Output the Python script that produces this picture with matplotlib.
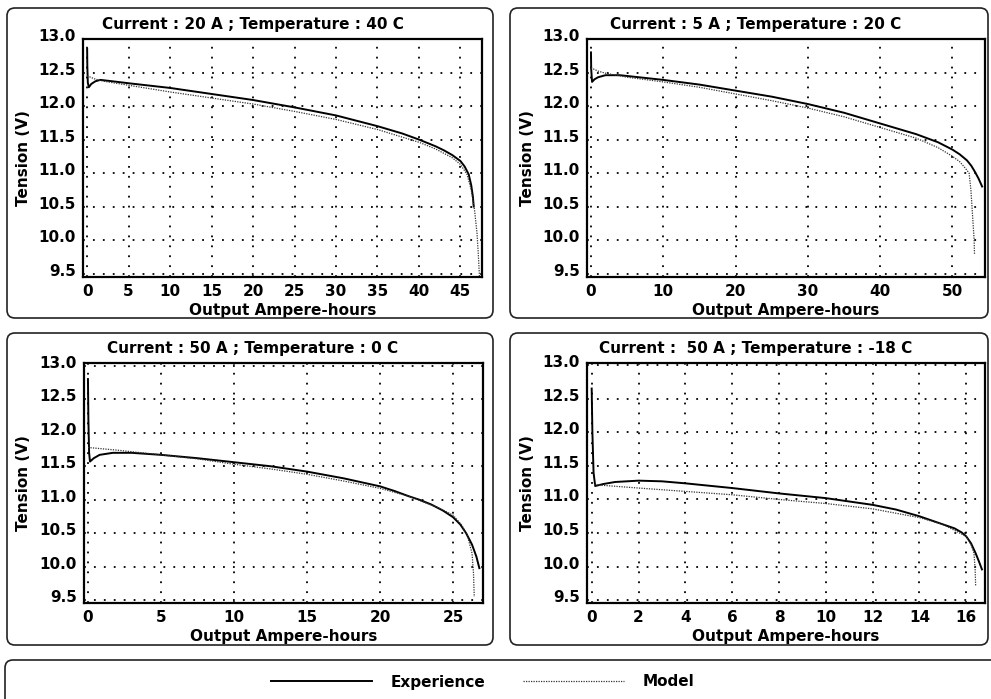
import matplotlib
matplotlib.use('Agg')
import matplotlib.pyplot as plt
from matplotlib.patches import FancyBboxPatch
from matplotlib.lines import Line2D
from matplotlib.transforms import ScaledTranslation

# ---------------- data ----------------
titles = ["Current : 20 A ; Temperature : 40 C",
          "Current : 5 A ; Temperature : 20 C",
          "Current : 50 A ; Temperature : 0 C",
          "Current :  50 A ; Temperature : -18 C"]

x_ticks_1 = [0, 5, 10, 15, 20, 25, 30, 35, 40, 45]
x_ticks_2 = [0, 10, 20, 30, 40, 50]
x_ticks_3 = [0, 5, 10, 15, 20, 25]
x_ticks_4 = [0, 2, 4, 6, 8, 10, 12, 14, 16]
y_ticks = [9.5, 10.0, 10.5, 11.0, 11.5, 12.0, 12.5, 13.0]

exp_x_1 = [0, 0.02, 0.08, 0.2, 0.5, 1.0, 1.6, 3, 5, 10, 15, 20, 25, 30, 35, 38, 40, 42, 43, 44, 45, 45.5, 46.0, 46.3, 46.5, 46.6]
exp_y_1 = [12.85, 12.60, 12.35, 12.28, 12.33, 12.37, 12.39, 12.37, 12.34, 12.27, 12.18, 12.09, 11.98, 11.86, 11.70, 11.59, 11.50, 11.40, 11.34, 11.27, 11.18, 11.10, 10.98, 10.82, 10.65, 10.50]
mod_x_1 = [0, 1, 2, 5, 10, 15, 20, 25, 30, 35, 40, 42, 44, 45, 45.8, 46.3, 46.7, 47.0, 47.15, 47.3]
mod_y_1 = [12.45, 12.40, 12.37, 12.31, 12.21, 12.12, 12.03, 11.92, 11.80, 11.65, 11.46, 11.36, 11.23, 11.13, 10.98, 10.75, 10.45, 10.10, 9.80, 9.45]

exp_x_2 = [0, 0.03, 0.15, 0.5, 1.0, 2, 4, 10, 15, 20, 25, 30, 35, 40, 45, 48, 50, 51, 52, 52.6, 53.1, 53.6, 54.1]
exp_y_2 = [12.80, 12.55, 12.36, 12.40, 12.43, 12.46, 12.46, 12.39, 12.32, 12.23, 12.14, 12.03, 11.90, 11.74, 11.58, 11.46, 11.35, 11.28, 11.19, 11.11, 11.02, 10.92, 10.80]
mod_x_2 = [0, 1, 2, 3, 5, 10, 15, 20, 25, 30, 35, 40, 45, 48, 50, 51, 51.8, 52.3, 52.55, 52.7, 52.85, 53.0, 53.05]
mod_y_2 = [12.57, 12.52, 12.49, 12.47, 12.43, 12.36, 12.28, 12.18, 12.08, 11.97, 11.84, 11.68, 11.52, 11.38, 11.25, 11.17, 11.07, 11.00, 10.75, 10.50, 10.25, 10.00, 9.78]

exp_x_3 = [0, 0.03, 0.08, 0.14, 0.4, 0.8, 1.7, 3, 5, 7.5, 10, 12.5, 15, 17.5, 20, 21, 22, 22.7, 23.5, 24.3, 25, 25.5, 25.9, 26.3, 26.6, 26.8]
exp_y_3 = [12.80, 12.20, 11.70, 11.57, 11.62, 11.67, 11.70, 11.70, 11.67, 11.62, 11.56, 11.50, 11.42, 11.32, 11.20, 11.13, 11.05, 11.00, 10.93, 10.84, 10.74, 10.63, 10.50, 10.33, 10.15, 9.98]
mod_x_3 = [0, 2, 5, 7.5, 10, 12.5, 15, 17.5, 20, 22, 24, 25, 25.6, 26.0, 26.3, 26.4, 26.45]
mod_y_3 = [11.78, 11.74, 11.67, 11.61, 11.53, 11.46, 11.38, 11.28, 11.17, 11.05, 10.88, 10.77, 10.62, 10.45, 10.20, 9.90, 9.55]

exp_x_4 = [0, 0.03, 0.08, 0.15, 0.5, 1.0, 2.0, 3.0, 4, 6, 8, 10, 12, 13, 14, 15, 15.5, 15.8, 16.0, 16.2, 16.4, 16.55, 16.67]
exp_y_4 = [12.65, 12.00, 11.40, 11.20, 11.23, 11.26, 11.28, 11.27, 11.24, 11.17, 11.09, 11.02, 10.92, 10.85, 10.75, 10.63, 10.57, 10.51, 10.45, 10.35, 10.20, 10.07, 9.96]
mod_x_4 = [0.1, 2, 4, 6, 8, 10, 12, 14, 15, 16.0, 16.2, 16.33, 16.38, 16.4]
mod_y_4 = [11.22, 11.17, 11.12, 11.07, 11.00, 10.94, 10.86, 10.73, 10.63, 10.45, 10.33, 10.20, 9.95, 9.72]

xlims = [(-0.5, 47.6), (-0.55, 54.5), (-0.27, 27.05), (-0.2, 16.8)]
ylims = [(9.45, 13.0), (9.45, 13.0), (9.46, 13.04), (9.46, 13.03)]

# ---------------- figure ----------------
W, H = 991, 699
plt.rcParams['font.family'] = ['DejaVu Sans']
plt.rcParams['font.weight'] = 'bold'
plt.rcParams['font.size'] = 11
fig = plt.figure(figsize=(W / 100, H / 100), dpi=100)
fig.patch.set_facecolor('white')


def fig_rect(l, t, r, b):
    return [l / W, 1 - b / H, (r - l) / W, (b - t) / H]


# panel boxes
boxes = [(7, 8, 493, 318), (510, 8, 988, 318), (7, 333, 493, 645), (510, 333, 988, 645), (5, 660, 1000, 710)]
for (l, t, r, b) in boxes:
    p = FancyBboxPatch((l / W, 1 - b / H), (r - l) / W, (b - t) / H,
                       boxstyle='round,pad=0,rounding_size=0.008',
                       mutation_aspect=W / H,
                       transform=fig.transFigure, fill=False,
                       lw=1.2, ec='#222222')
    fig.add_artist(p)

axes_rects = [(83, 39, 482, 277), (587, 39, 985, 277), (84, 363, 483, 603), (587, 363, 985, 603)]
xticks_all = [x_ticks_1, x_ticks_2, x_ticks_3, x_ticks_4]
exp_all = [(exp_x_1, exp_y_1), (exp_x_2, exp_y_2), (exp_x_3, exp_y_3), (exp_x_4, exp_y_4)]
mod_all = [(mod_x_1, mod_y_1), (mod_x_2, mod_y_2), (mod_x_3, mod_y_3), (mod_x_4, mod_y_4)]
title_cx = [253, 756, 253, 756]
ylabel_right = [31, 535, 31, 535]

for i in range(4):
    l, t, r, b = axes_rects[i]
    ax = fig.add_axes(fig_rect(l, t, r, b))
    ax.plot(exp_all[i][0], exp_all[i][1], color='black', lw=1.4, solid_joinstyle='round')
    ax.plot(mod_all[i][0], mod_all[i][1], color='#333333', lw=0.9, linestyle=(0, (1, 1)))
    ax.set_xlim(*xlims[i])
    ax.set_ylim(*ylims[i])
    ax.set_xticks(xticks_all[i])
    ax.set_xticklabels([str(v) for v in xticks_all[i]])
    ax.set_yticks(y_ticks)
    ax.set_yticklabels(['%.1f' % v for v in y_ticks])
    ax.grid(True, color='black', lw=1.3, linestyle=(0, (1, 4.5)))
    ax.tick_params(length=0, labelsize=11, pad=5)
    for sp in ax.spines.values():
        sp.set_linewidth(1.6)
    for lab in ax.get_yticklabels():
        lab.set_fontweight('bold')
        lab.set_transform(lab.get_transform() + ScaledTranslation(0, 4 / 100, fig.dpi_scale_trans))
    for lab in ax.get_xticklabels():
        lab.set_fontweight('bold')
    ax.set_title(titles[i], fontsize=11, fontweight='bold',
                 x=(title_cx[i] - l) / (r - l), pad=7)
    ax.set_xlabel('Output Ampere-hours', fontsize=11, fontweight='bold')
    ax.set_ylabel('Tension (V)', fontsize=11, fontweight='bold')
    ax.xaxis.set_label_coords(0.5, -26.0 / (b - t))
    ax.xaxis.label.set_va('top')
    ax.yaxis.set_label_coords(-(l - ylabel_right[i]) / (r - l), 0.5)

# legend
handles = [Line2D([], [], color='black', lw=1.4),
           Line2D([], [], color='#333333', lw=0.9, linestyle=(0, (1, 1)))]
fig.legend(handles, ['Experience', 'Model'], loc='center',
           bbox_to_anchor=(482.5 / W, 1 - 682 / H), ncol=2, frameon=False,
           handlelength=6.6, handletextpad=1.2, columnspacing=2.5,
           prop={'weight': 'bold', 'size': 11})

fig.savefig('out.png', dpi=100, facecolor='white')
